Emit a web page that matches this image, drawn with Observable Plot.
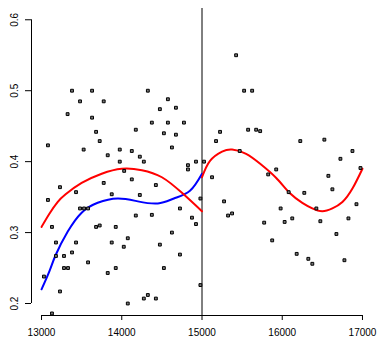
<!DOCTYPE html>
<html>
<head>
<meta charset="utf-8">
<script src="https://cdn.jsdelivr.net/npm/d3@7"></script>
<script src="https://cdn.jsdelivr.net/npm/@observablehq/plot@0.6"></script>
<style>
  body { margin: 0; background: #fff; }
</style>
</head>
<body>
<div id="chart"></div>
<script>
// Observations
const pointX = [13080,13380,13630,13480,13775,13325,13630,13680,13525,13725,
  13825,13975,13975,14125,14225,14275,14175,14325,14575,14475,
  14675,14375,14575,14775,14525,14675,14625,14825,14825,15425,
  15525,15625,15225,15175,15575,15675,15725,16225,16525,16725,
  16875,16975,14925,15025,15925,15470,14030,13080,13230,13430,
  13775,14125,13875,14225,14425,13480,13530,13580,14175,14375,
  14725,13130,13680,13725,13925,14625,13180,13430,13875,14075,
  14025,14475,13180,13280,13380,13280,13330,13580,13925,13825,
  14525,14725,13030,13230,14075,14275,14325,14425,13130,14980,
  14875,14925,14980,15125,15275,15325,15375,15825,16080,16275,
  15980,16030,16125,15775,15875,16180,16325,16375,16425,16475,
  16575,16625,16675,16775,16825,16925];
const pointY = [0.423,0.500,0.500,0.485,0.485,0.467,0.462,0.442,0.417,0.429,
  0.409,0.417,0.400,0.415,0.407,0.400,0.445,0.500,0.488,0.474,
  0.476,0.455,0.455,0.455,0.440,0.438,0.420,0.395,0.389,0.550,
  0.500,0.500,0.442,0.429,0.445,0.445,0.443,0.429,0.431,0.404,
  0.415,0.391,0.400,0.400,0.389,0.415,0.387,0.346,0.364,0.357,
  0.370,0.375,0.354,0.353,0.367,0.334,0.334,0.334,0.324,0.325,
  0.334,0.308,0.308,0.310,0.308,0.300,0.286,0.286,0.286,0.292,
  0.280,0.283,0.267,0.267,0.272,0.250,0.250,0.258,0.250,0.243,
  0.250,0.269,0.238,0.217,0.200,0.207,0.212,0.207,0.186,0.348,
  0.321,0.312,0.226,0.378,0.344,0.324,0.327,0.382,0.357,0.356,
  0.334,0.315,0.320,0.314,0.289,0.270,0.263,0.256,0.334,0.316,
  0.380,0.361,0.298,0.261,0.320,0.340];

// Fitted curve before the break (red)
const redLeftX = [13000,13100,13200,13300,13500,13750,14000,14250,14500,14750,15000];
const redLeftY = [0.308,0.327,0.343,0.354,0.370,0.383,0.390,0.388,0.378,0.356,0.330];

// Fitted curve after the break (red)
const redRightX = [15000,15100,15250,15375,15550,15725,15925,16100,16250,16375,16500,16625,16750,16875,17000];
const redRightY = [0.378,0.401,0.414,0.417,0.411,0.397,0.377,0.355,0.342,0.334,0.330,0.334,0.343,0.362,0.390];

// Alternative fit before the break (blue)
const blueX = [13000,13100,13175,13325,13500,13700,13950,14200,14450,14650,14850,15000];
const blueY = [0.220,0.246,0.268,0.301,0.328,0.342,0.348,0.344,0.341,0.348,0.359,0.383];

// Break point and axis ticks
const breakX = [15000];
const xTicks = [13000,14000,15000,16000,17000];
const yTicks = [0.2,0.3,0.4,0.5,0.6];

const xDomain = [12875, 17125];
const yDomain = [0.1831, 0.6159];

const zip = (xs, ys) => xs.map((x, i) => ({x, y: ys[i]}));
const points = zip(pointX, pointY);
const redLeft = zip(redLeftX, redLeftY);
const redRight = zip(redRightX, redRightY);
const blue = zip(blueX, blueY);

const chart = Plot.plot({
  width: 377,
  height: 337,
  marginLeft: 31,
  marginRight: 5,
  marginTop: 8,
  marginBottom: 22,
  x: {domain: xDomain},
  y: {domain: yDomain},
  style: {
    fontFamily: "'Liberation Sans', Arial, Helvetica, sans-serif",
    fontSize: "10px",
    color: "#000",
    background: "#fff",
    overflow: "visible"
  },
  marks: [
    // axes drawn R-style: line spans only the tick range
    Plot.ruleY([yDomain[0]], {x1: xTicks[0], x2: xTicks[xTicks.length - 1], stroke: "#000"}),
    Plot.ruleX([xDomain[0]], {y1: yTicks[0], y2: yTicks[yTicks.length - 1], stroke: "#000"}),
    Plot.axisX({ticks: xTicks, tickSize: 5, tickPadding: 8, tickFormat: d => String(d), label: null, fontSize: 10}),
    Plot.axisY({ticks: yTicks, tickSize: 6, tickFormat: () => "", label: null}),
    Plot.text(yTicks, {x: xDomain[0], y: d => d, text: d => d.toFixed(1), rotate: -90, dx: -17, fontSize: 10, fill: "#000"}),
    // break line
    Plot.ruleX(breakX, {stroke: "#000", strokeWidth: 1}),
    // fitted curves
    Plot.line(blue, {x: "x", y: "y", stroke: "#0000ff", strokeWidth: 2, curve: "natural"}),
    Plot.line(redLeft, {x: "x", y: "y", stroke: "#ff0000", strokeWidth: 2, curve: "natural"}),
    Plot.line(redRight, {x: "x", y: "y", stroke: "#ff0000", strokeWidth: 2, curve: "natural"}),
    // observations
    Plot.dot(points, {x: "x", y: "y", symbol: "square", r: 1.6, stroke: "#000", strokeWidth: 1, fill: "#777"})
  ]
});

document.getElementById("chart").append(chart);
</script>
</body>
</html>
